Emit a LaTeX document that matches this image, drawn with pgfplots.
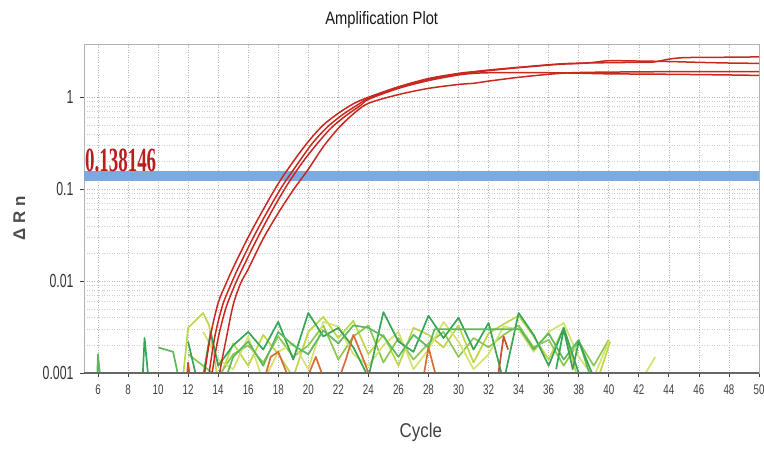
\documentclass[border=0pt]{standalone}
\usepackage{fontspec}
\setmainfont{Liberation Sans}
\newfontfamily\serifbold{Liberation Serif}
\usepackage{graphicx}
\usepackage{pgfplots}
\pgfplotsset{compat=1.18}
\definecolor{cred}{RGB}{200,40,32}
\definecolor{clabel}{RGB}{185,30,30}
\definecolor{cblue}{RGB}{122,170,224}
\definecolor{cgA}{RGB}{55,165,85}
\definecolor{cgB}{RGB}{90,185,95}
\definecolor{cgC}{RGB}{140,200,80}
\definecolor{cyA}{RGB}{190,215,70}
\definecolor{cyB}{RGB}{215,225,110}
\definecolor{coA}{RGB}{215,110,55}
\definecolor{coB}{RGB}{200,80,45}
\newcommand{\xl}[1]{\scalebox{0.7}[1]{#1}}
\newcommand{\yl}[1]{\scalebox{0.65}[1]{#1}}
\begin{document}
\begin{tikzpicture}
\useasboundingbox (0,0) rectangle (764bp,449bp);
\begin{axis}[
  at={(84bp,76bp)}, anchor=south west,
  scale only axis, width=675bp, height=329bp,
  xmin=5.07, xmax=50,
  ymode=log, ymin=0.001, ymax=3.8,
  xtick={6,8,...,50},
  xticklabels={\xl{6},\xl{8},\xl{10},\xl{12},\xl{14},\xl{16},\xl{18},\xl{20},\xl{22},\xl{24},\xl{26},\xl{28},\xl{30},\xl{32},\xl{34},\xl{36},\xl{38},\xl{40},\xl{42},\xl{44},\xl{46},\xl{48},\xl{50}},
  ytick={0.001,0.01,0.1,1},
  yticklabels={\yl{0.001},\yl{0.01},\yl{0.1},\yl{1}},
  minor x tick num=0,
  grid=both,
  major grid style={black!28, dash pattern=on 1bp off 1.5bp, line width=0.6bp},
  minor grid style={black!20, dash pattern=on 1bp off 1.5bp, line width=0.5bp},
  axis line style={black!30, line width=0.7bp},
  tick style={black!75, line width=0.8bp},
  major tick length=4bp, minor tick length=0pt,
  tick align=outside,
  xtick pos=bottom, ytick pos=left,
  xticklabel style={font=\fontsize{14}{14}\selectfont, text=black!75, yshift=-4bp},
  yticklabel style={font=\fontsize{19}{19}\selectfont, text=black!80, xshift=-3bp},
  title={\fontsize{18}{18}\selectfont\scalebox{0.82}[1]{Amplification Plot}},
  title style={at={(axis description cs:0.441,1.079)}, anchor=center, yshift=-8bp, text=black!90},
  xlabel={\fontsize{20}{20}\selectfont\scalebox{0.85}[1]{Cycle}},
  xlabel style={at={(axis description cs:0.499,-0.179)}, anchor=center, text=black!75},
  ylabel={\fontsize{17}{17}\selectfont\bfseries Δ R n},
  ylabel style={at={(axis description cs:-0.096,0.471)}, anchor=center, rotate=0, text=black!70},
  clip=true,
  every axis plot/.append style={line join=round},
]
% noise traces
\addplot[cgB, line width=1.7bp] coordinates {(5.9,0.0005)(6,0.0016)(6.3,0.0005)};
\addplot[cgA, line width=1.7bp] coordinates {(8.9,0.0005)(9.1,0.0024)(9.5,0.0005)};
\addplot[cgB, line width=1.7bp] coordinates {(10,0.0019)(11,0.0017)(11.7,0.0005)};
\addplot[cyA, line width=1.7bp] coordinates {(11.5,0.0005)(12,0.0031)(13,0.0045)(13.4,0.0033)(14,0.0008)(15,0.0021)(16,0.0012)(17,0.0026)(18,0.0016)(19,0.0009)(20,0.0028)(21,0.0041)(22,0.0024)(23,0.0037)(24,0.0016)(25,0.0026)(26,0.0012)(27,0.0031)(28,0.0026)(29,0.0019)(30,0.0033)(31,0.0013)(32,0.0027)(33,0.0034)(34,0.0042)(35,0.0025)(36,0.0014)(37,0.0031)(38,0.0008)};
\addplot[cgC, line width=1.7bp] coordinates {(12,0.0016)(13,0.0012)(14,0.0009)(15,0.0016)(16,0.002)(17,0.0013)(18,0.0025)(19,0.0015)(20,0.002)(21,0.0033)(22,0.0014)(23,0.0025)(24,0.0033)(25,0.0013)(26,0.0024)(27,0.0014)(28,0.0021)(29,0.0028)(30,0.0015)(31,0.0024)(32,0.0019)(33,0.0026)(34,0.0033)(35,0.0019)(36,0.0023)(37,0.0012)(38,0.0022)(39,0.0012)(40,0.0023)};
\addplot[cyB, line width=1.7bp] coordinates {(13,0.0028)(14,0.0014)(15,0.0011)(16,0.0025)(17,0.0008)(18,0.0017)(19,0.0021)(20,0.0011)(21,0.0036)(22,0.0032)(23,0.0016)(24,0.0012)(25,0.002)(26,0.0028)(27,0.0011)(28,0.0018)(29,0.0036)(30,0.0022)(31,0.0011)(32,0.0016)(33,0.0032)(34,0.003)(35,0.0017)(36,0.0028)(37,0.0035)(38,0.0015)(39,0.0009)(40,0.0022)};
\addplot[cgA, line width=1.7bp] coordinates {(12,0.0022)(12.8,0.0006)(13.5,0.0028)(14,0.0012)(15,0.002)(16,0.0028)(17,0.0018)(18,0.0036)(19,0.0014)(20,0.0045)(21,0.0025)(22,0.0031)(23,0.0019)(24,0.0009)(25,0.0046)(26,0.0022)(27,0.0017)(28,0.0042)(29,0.0024)(30,0.004)(31,0.0018)(32,0.0035)(33,0.0008)(34,0.0045)(35,0.0026)(36,0.0012)(37,0.0031)(38,0.001)(38.6,0.0005)};
\addplot[cgB, line width=1.7bp] coordinates {(14,0.0005)(15,0.0015)(16,0.0022)(17,0.0012)(18,0.0028)(19,0.002)(20,0.0016)(21,0.0029)(22,0.0021)(23,0.0033)(24,0.0031)(25,0.0025)(26,0.0015)(27,0.0026)(28,0.0019)(28.4,0.003)(34.1,0.003)(35,0.0018)(36,0.0027)(37,0.0014)(38,0.0023)(39,0.0007)};
\addplot[coB, line width=1.7bp] coordinates {(11.8,0.0005)(12,0.0013)(12.3,0.0005)};
\addplot[coA, line width=1.7bp] coordinates {(16.8,0.0006)(17.5,0.0015)(18,0.0017)(18.8,0.0008)(19.3,0.0005)(20.5,0.0015)(21,0.0009)(21.7,0.0006)(22.5,0.0014)(23,0.0026)(23.6,0.0015)(24,0.001)(24.5,0.0006)};
\addplot[coA, line width=1.7bp] coordinates {(27.4,0.0005)(28,0.0019)(28.8,0.0006)};
\addplot[coB, line width=1.7bp] coordinates {(32.4,0.0005)(33,0.0025)(33.3,0.0018)};
\addplot[cyA, line width=1.7bp] coordinates {(38.8,0.0005)(40.1,0.0022)};
\addplot[cyB, line width=1.7bp] coordinates {(42.1,0.0008)(43.1,0.0015)};
\addplot[cgA, line width=1.7bp] coordinates {(36.5,0.0011)(37,0.003)(37.6,0.0011)(38,0.0022)(39,0.0009)};
% threshold
\addplot[cblue, line width=10bp] coordinates {(4,0.138146)(51,0.138146)};
% amplification curves
\addplot[cred, line width=1.5bp, smooth] coordinates {(12.9,0.0005)(13.1,0.001)(13.5,0.0026)(14,0.0058)(14.5,0.0092)(15,0.014)(16,0.03)(17,0.06)(18,0.115)(19,0.2)(20,0.33)(21,0.5)(22,0.67)(23,0.85)(24,1.0)(26,1.3)(28,1.6)(30,1.82)(31,1.9)(32,1.98)(34,2.12)(36,2.26)(37,2.32)(38,2.35)(40,2.38)(42,2.4)(43,2.42)(44,2.6)(45,2.7)(47,2.72)(50,2.75)};
\addplot[cred, line width=1.5bp, smooth] coordinates {(13.2,0.0005)(13.4,0.001)(13.8,0.0026)(14.3,0.0055)(14.8,0.0088)(15.3,0.0135)(16.3,0.029)(17.3,0.058)(18.3,0.11)(19.3,0.19)(20.3,0.32)(21.3,0.48)(22.3,0.65)(23.3,0.83)(24,0.97)(26,1.27)(28,1.56)(30,1.8)(31,1.87)(32,1.95)(34,2.1)(36,2.24)(37,2.3)(38,2.33)(39,2.4)(40,2.5)(42,2.48)(44,2.45)(46,2.4)(48,2.36)(50,2.34)};
\addplot[cred, line width=1.5bp, smooth] coordinates {(13.4,0.0005)(13.6,0.001)(14,0.0024)(14.5,0.005)(15,0.0082)(15.5,0.0125)(16.5,0.027)(17.5,0.055)(18.5,0.105)(19.5,0.185)(20.5,0.3)(21.5,0.46)(22.5,0.63)(23.5,0.82)(24,0.95)(26,1.25)(28,1.52)(30,1.75)(31,1.82)(32,1.85)(34,1.86)(36,1.85)(38,1.83)(40,1.8)(44,1.78)(48,1.75)(50,1.73)};
\addplot[cred, line width=1.5bp, smooth] coordinates {(13.9,0.0005)(14.1,0.001)(14.5,0.0022)(15,0.0055)(15.5,0.0095)(16,0.0135)(17,0.029)(18,0.055)(19,0.098)(20,0.165)(21,0.29)(22,0.46)(23,0.66)(24,0.86)(26,1.07)(28,1.25)(30,1.38)(31,1.42)(32,1.5)(34,1.65)(36,1.78)(37,1.83)(38,1.86)(40,1.88)(44,1.9)(48,1.9)(50,1.9)};
\draw[black!60, line width=1.5bp] (rel axis cs:0,0) -- (rel axis cs:1,0);
\node[anchor=south west, inner sep=0pt, text=clabel] at (axis cs:5.13,0.153) {\serifbold\bfseries\fontsize{34}{34}\selectfont\scalebox{0.56}[1]{0.138146}};
\end{axis}
\end{tikzpicture}
\end{document}
